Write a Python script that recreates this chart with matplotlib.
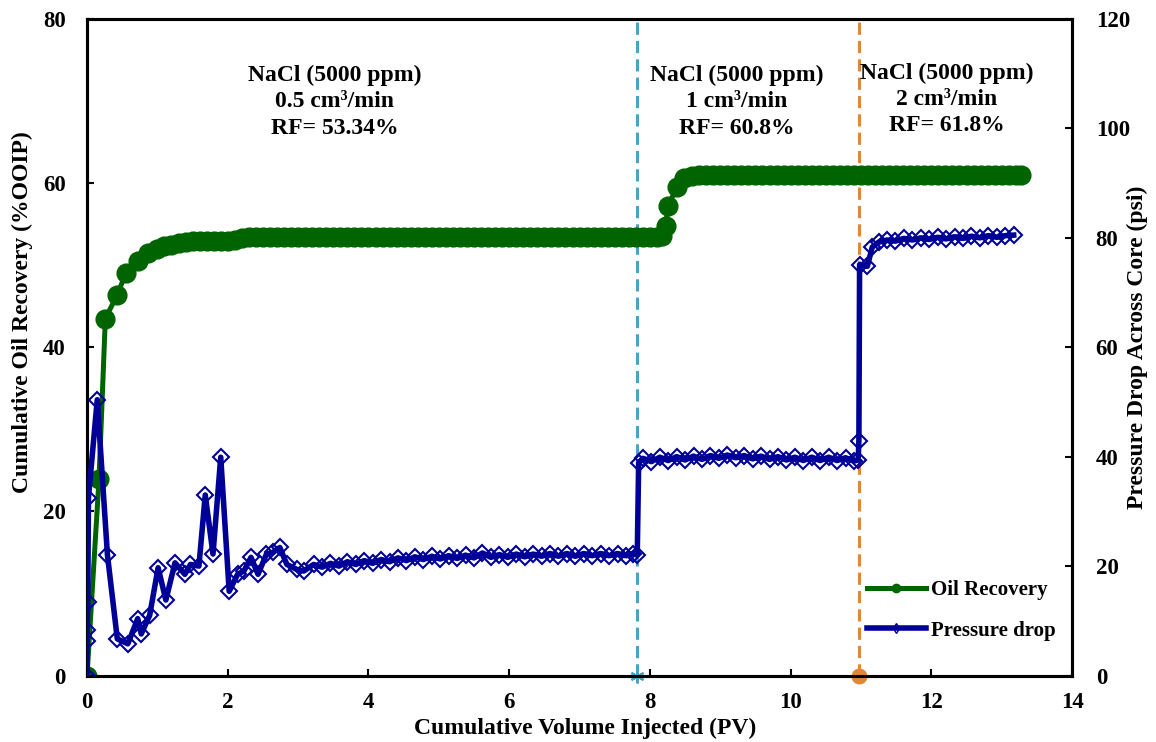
import matplotlib
matplotlib.use("Agg")
import matplotlib.pyplot as plt
from matplotlib.lines import Line2D

plt.rcParams['font.family'] = ['Liberation Serif', 'DejaVu Serif']
plt.rcParams['font.weight'] = 'bold'

# ---- Oil recovery (%OOIP) ----
oil_x = [0.0, 0.17, 0.26, 0.43, 0.55, 0.72, 0.87, 1.0, 1.1, 1.2, 1.3, 1.4, 1.5, 1.6, 1.7, 1.8, 1.9,
         2.0, 2.1, 2.2, 2.3, 2.4, 2.5, 2.6, 2.7, 2.8, 2.9, 3.0, 3.1, 3.2, 3.3, 3.4, 3.5, 3.6, 3.7,
         3.8, 3.9, 4.0, 4.1, 4.2, 4.3, 4.4, 4.5, 4.6, 4.7, 4.8, 4.9, 5.0, 5.1, 5.2, 5.3, 5.4, 5.5,
         5.6, 5.7, 5.8, 5.9, 6.0, 6.1, 6.2, 6.3, 6.4, 6.5, 6.6, 6.7, 6.8, 6.9, 7.0, 7.1, 7.2, 7.3,
         7.4, 7.5, 7.6, 7.7, 7.8, 7.9, 8.0, 8.1, 8.17, 8.23, 8.25, 8.39, 8.48, 8.6, 8.7, 8.8, 8.9,
         9.0, 9.1, 9.2, 9.3, 9.4, 9.5, 9.6, 9.7, 9.8, 9.9, 10.0, 10.1, 10.2, 10.3, 10.4, 10.5, 10.6,
         10.7, 10.8, 10.9, 11.0, 11.1, 11.2, 11.3, 11.4, 11.5, 11.6, 11.7, 11.8, 11.9, 12.0, 12.1,
         12.2, 12.3, 12.4, 12.5, 12.6, 12.7, 12.8, 12.9, 13.0, 13.1, 13.2, 13.28]
oil_y = [0.0, 23.9, 43.5, 46.4, 49.0, 50.5, 51.5, 52.0, 52.3, 52.5, 52.7, 52.8, 52.9, 52.9, 52.9,
         52.9, 52.9, 53.0, 53.1, 53.3, 53.4, 53.4, 53.4, 53.4, 53.4, 53.4, 53.4, 53.4, 53.4, 53.4,
         53.4, 53.4, 53.4, 53.4, 53.4, 53.4, 53.4, 53.4, 53.4, 53.4, 53.4, 53.4, 53.4, 53.4, 53.4,
         53.4, 53.4, 53.4, 53.4, 53.4, 53.4, 53.4, 53.4, 53.4, 53.4, 53.4, 53.4, 53.4, 53.4, 53.4,
         53.4, 53.4, 53.4, 53.4, 53.4, 53.4, 53.4, 53.4, 53.4, 53.4, 53.4, 53.4, 53.4, 53.4, 53.4,
         53.4, 53.4, 53.4, 53.4, 53.5, 54.8, 57.2, 59.5, 60.6, 60.9, 61.0, 61.0, 61.0, 61.0, 61.0,
         61.0, 61.0, 61.0, 61.0, 61.0, 61.0, 61.0, 61.0, 61.0, 61.0, 61.0, 61.0, 61.0, 61.0, 61.0,
         61.0, 61.0, 61.0, 61.0, 61.0, 61.0, 61.0, 61.0, 61.0, 61.0, 61.0, 61.0, 61.0, 61.0, 61.0,
         61.0, 61.0, 61.0, 61.0, 61.0, 61.0, 61.0, 61.0, 61.0, 61.0, 61.0, 61.0]

# ---- Pressure drop (psi) ----
dp_x = [0.0, 0.0, 0.0, 0.01, 0.02, 0.145, 0.29, 0.43, 0.58, 0.72, 0.77, 0.89, 1.01, 1.12, 1.25,
        1.39, 1.47, 1.59, 1.68, 1.79, 1.90, 2.02, 2.14, 2.23, 2.33, 2.43, 2.55, 2.64, 2.74, 2.84,
        2.98, 3.08, 3.22, 3.34, 3.46, 3.58, 3.70, 3.82, 3.94, 4.06, 4.18, 4.30, 4.42, 4.54, 4.66,
        4.78, 4.90, 5.02, 5.14, 5.26, 5.38, 5.50, 5.62, 5.74, 5.86, 5.98, 6.10, 6.22, 6.34, 6.46,
        6.58, 6.70, 6.82, 6.94, 7.06, 7.18, 7.30, 7.42, 7.54, 7.66, 7.76, 7.82, 7.84, 7.9, 8.02,
        8.14, 8.26, 8.38, 8.5, 8.62, 8.74, 8.86, 8.98, 9.1, 9.22, 9.34, 9.46, 9.58, 9.7, 9.82,
        9.94, 10.06, 10.18, 10.3, 10.42, 10.54, 10.66, 10.78, 10.9, 10.96, 10.97, 10.98, 11.09,
        11.16, 11.25, 11.37, 11.49, 11.61, 11.73, 11.85, 11.97, 12.09, 12.21, 12.33, 12.45, 12.57,
        12.69, 12.81, 12.93, 13.05, 13.17]
dp_y = [0.0, 6.4, 8.3, 13.5, 32.5, 50.4, 22.0, 6.7, 5.8, 10.4, 7.6, 11.0, 19.7, 13.8, 20.6,
        18.5, 20.3, 20.0, 33.0, 22.2, 39.9, 15.4, 18.5, 19.1, 21.6, 18.5, 22.2, 22.5, 23.4, 20.3,
        19.4, 19.1, 20.3, 19.8, 20.5, 20.0, 20.8, 20.3, 21.0, 20.5, 21.2, 20.8, 21.5, 21.0, 21.7,
        21.2, 21.8, 21.3, 21.9, 21.4, 22.0, 21.5, 22.4, 21.6, 22.1, 21.6, 22.2, 21.7, 22.2, 21.8,
        22.3, 21.8, 22.3, 21.8, 22.3, 21.9, 22.3, 21.9, 22.3, 21.9, 22.3, 22.0, 38.9, 39.7, 39.1,
        39.9, 39.3, 40.0, 39.4, 40.1, 39.5, 40.2, 39.7, 40.3, 39.8, 40.2, 39.6, 40.1, 39.5, 40.0,
        39.4, 39.9, 39.3, 39.9, 39.3, 39.9, 39.3, 39.8, 39.2, 39.4, 42.9, 75.1, 74.8, 78.3, 79.2,
        79.6, 79.4, 79.9, 79.6, 80.0, 79.7, 80.1, 79.8, 80.2, 79.9, 80.3, 80.0, 80.4, 80.1, 80.4,
        80.5]

# vertical boundaries between injection rates (PV)
rate_change_x = [7.82, 10.97]

notes = ["NaCl (5000 ppm)\n0.5 cm³/min\nRF= 53.34%",
         "NaCl (5000 ppm)\n1 cm³/min\nRF= 60.8%",
         "NaCl (5000 ppm)\n2 cm³/min\nRF= 61.8%"]
note_x = [3.52, 9.23, 12.22]
note_y = [69.9, 69.9, 70.2]

green = '#006400'
blue = '#000099'
cyan = '#4BA3C3'
orange = '#E0883A'

fig = plt.figure(figsize=(11.56, 7.42), dpi=100)
ax = fig.add_axes([0.0753, 0.0896, 0.8521, 0.8848])
ax2 = ax.twinx()

ax.plot(oil_x, oil_y, color=green, lw=3.6, marker='o', ms=13.5, mfc=green, mec=green, zorder=3)
ax2.plot(dp_x, dp_y, color=blue, lw=4, marker='D', ms=8.3, mfc='none', mec=blue, mew=1.5,
         zorder=3)

ax.axvline(rate_change_x[0], color=cyan, lw=2.2, ls=(0, (4, 2)), zorder=2)
ax.axvline(rate_change_x[1], color=orange, lw=2.2, ls=(0, (4, 2)), zorder=2)
ax.plot([rate_change_x[0]], [0], marker=(6, 2, 0), color=cyan, ms=10, mew=1.6, clip_on=False,
        zorder=5)
ax.plot([rate_change_x[1]], [0], marker='o', color=orange, ms=10.5, clip_on=False, zorder=5)

ax.set_xlim(0, 14)
ax.set_ylim(0, 80)
ax2.set_ylim(0, 120)
ax.set_xticks(range(0, 15, 2))
ax.set_yticks(range(0, 81, 20))
ax2.set_yticks(range(0, 121, 20))

for a in (ax, ax2):
    for s in a.spines.values():
        s.set_linewidth(2.2)
    a.tick_params(direction='in', length=5, width=1.5, labelsize=16.5)
ax.tick_params(axis='y', pad=15.5)
ax.tick_params(axis='x', pad=12)
ax2.tick_params(axis='y', pad=17)
for lab in ax.get_xticklabels() + ax.get_yticklabels() + ax2.get_yticklabels():
    lab.set_fontweight('bold')

ax.set_xlabel('Cumulative Volume Injected (PV)', fontsize=17, fontweight='bold')
ax.set_ylabel('Cumulative Oil Recovery (%OOIP)', fontsize=17, fontweight='bold')
ax2.set_ylabel('Pressure Drop Across Core (psi)', fontsize=17, fontweight='bold',
               rotation=90)
ax.xaxis.set_label_coords(0.506, -0.08)
ax.yaxis.set_label_coords(-0.066, 0.554)
ax2.yaxis.set_label_coords(1.066, 0.50)
ax.xaxis.label.set_va('center')
ax.yaxis.label.set_va('center')
ax2.yaxis.label.set_va('center')

for t, xx, yy in zip(notes, note_x, note_y):
    ax.text(xx, yy, t, ha='center', va='center', fontsize=17, fontweight='bold',
            linespacing=1.33, zorder=6)

handles = [Line2D([], [], color=green, lw=3.6, marker='o', ms=6, mfc=green, mec=green),
           Line2D([], [], color=blue, lw=4, marker='d', ms=5, mfc='none', mec=blue)]
leg = ax2.legend(handles, ['Oil Recovery', 'Pressure drop'], loc='center left',
                 bbox_to_anchor=(0.773, 0.099), frameon=False, handlelength=2.8,
                 handletextpad=0.25, labelspacing=0.97, prop={'weight': 'bold', 'size': 15})

fig.savefig('out.png', dpi=100)
